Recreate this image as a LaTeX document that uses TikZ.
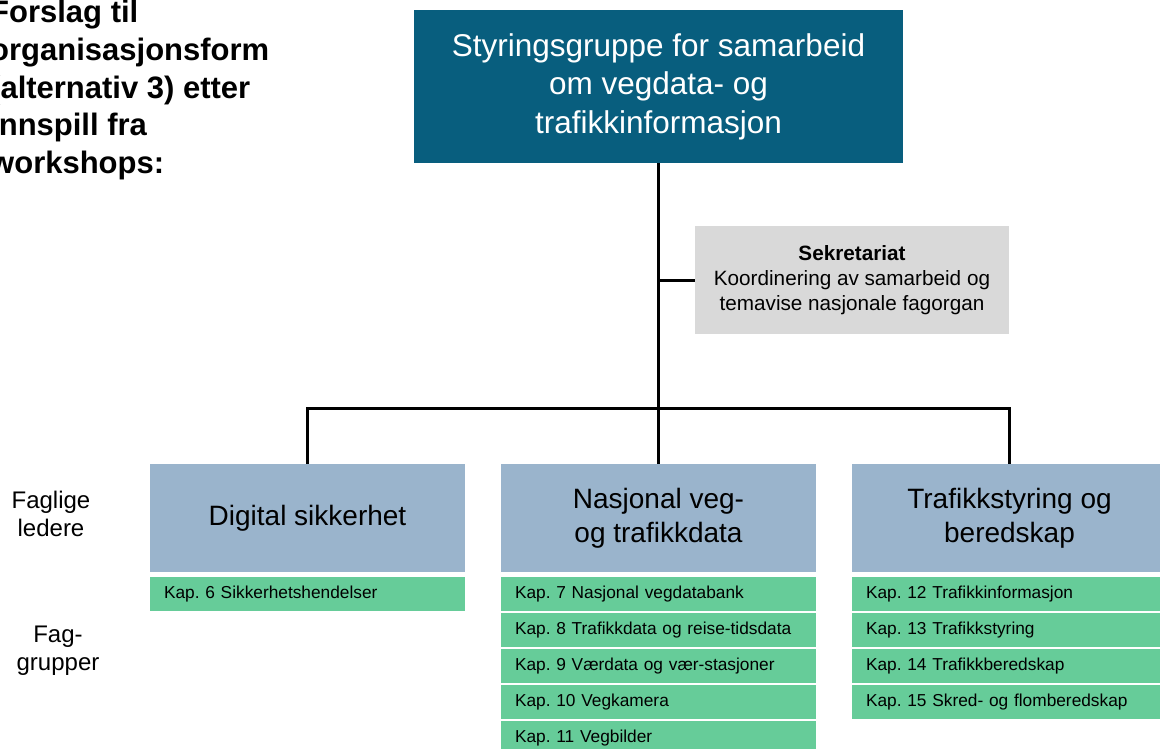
\documentclass[tikz,border=0pt]{standalone}
\usepackage{fontspec}
\setmainfont{Liberation Sans}
\frenchspacing
\definecolor{styrblue}{HTML}{085E7E}
\definecolor{sekrgrey}{HTML}{D9D9D9}
\definecolor{lederblue}{HTML}{9AB4CC}
\definecolor{kapgreen}{HTML}{66CC99}
\tikzset{
  link/.style={line width=3pt},
  styr/.style={fill=styrblue, text=white, minimum width=489pt, minimum height=153pt, align=center, font=\fontsize{31.5}{38.5}\selectfont},
  sekr/.style={fill=sekrgrey, minimum width=314pt, minimum height=108pt, align=center, font=\fontsize{20.7}{25}\selectfont},
  leder/.style={fill=lederblue, minimum width=315pt, minimum height=108pt, align=center, font=\fontsize{28}{34}\selectfont},
  kap/.style={fill=kapgreen, text width=287pt, inner xsep=14pt, minimum height=34pt, align=left, font=\fontsize{17.3}{20}\selectfont},
  sidetxt/.style={align=center, font=\fontsize{24}{28}\selectfont}
}
\begin{document}
\begin{tikzpicture}[x=1pt,y=-1pt]
\useasboundingbox (0,0) rectangle (1160,748);
\node [anchor=north west, align=left, inner sep=0pt, font=\bfseries\fontsize{31}{37.7}\selectfont] (tittel) at (-10,0) {Forslag til\\organisasjonsform\\(alternativ 3) etter\\innspill fra\\workshops:};
\node [styr] (styr) at (658.5,86.5) {Styringsgruppe for samarbeid\\om vegdata- og\\trafikkinformasjon};
\node [sekr] (sekr) at (852,280) {\textbf{Sekretariat}\\Koordinering av samarbeid og\\temavise nasjonale fagorgan};
\node [leder] (digital) at (307.5,518) {Digital sikkerhet};
\node [leder] (nasjonal) at (658.5,518) {Nasjonal veg-\\og trafikkdata};
\node [leder] (trafikk) at (1009.5,518) {Trafikkstyring og\\beredskap};
\node [sidetxt] (ledere) at (51,514) {Faglige\\ledere};
\node [sidetxt] (grupper) at (58,651) {Fag-\\grupper};
\foreach \t [count=\i] in {Kap. 6 Sikkerhetshendelser} {\node [kap, anchor=north] (dig\i) at (307.5,{541+36*\i}) {\t};}
\foreach \t [count=\i] in {Kap. 7 Nasjonal vegdatabank, Kap. 8 Trafikkdata og reise-tidsdata, Kap. 9 Værdata og vær-stasjoner, Kap. 10 Vegkamera, Kap. 11 Vegbilder} {\node [kap, anchor=north] (nasj\i) at (658.5,{541+36*\i}) {\t};}
\foreach \t [count=\i] in {Kap. 12 Trafikkinformasjon, Kap. 13 Trafikkstyring, Kap. 14 Trafikkberedskap, Kap. 15 Skred- og flomberedskap} {\node [kap, anchor=north] (traf\i) at (1009.5,{541+36*\i}) {\t};}
\coordinate (knute) at (658.5,408);
\draw [link] (styr.south) -- (knute);
\draw [link] (digital.north) |- (knute) -| (trafikk.north);
\draw [link] (knute) -- (nasjonal.north);
\draw [link] (sekr.west) -- (sekr.west -| styr.south);
\end{tikzpicture}
\end{document}
